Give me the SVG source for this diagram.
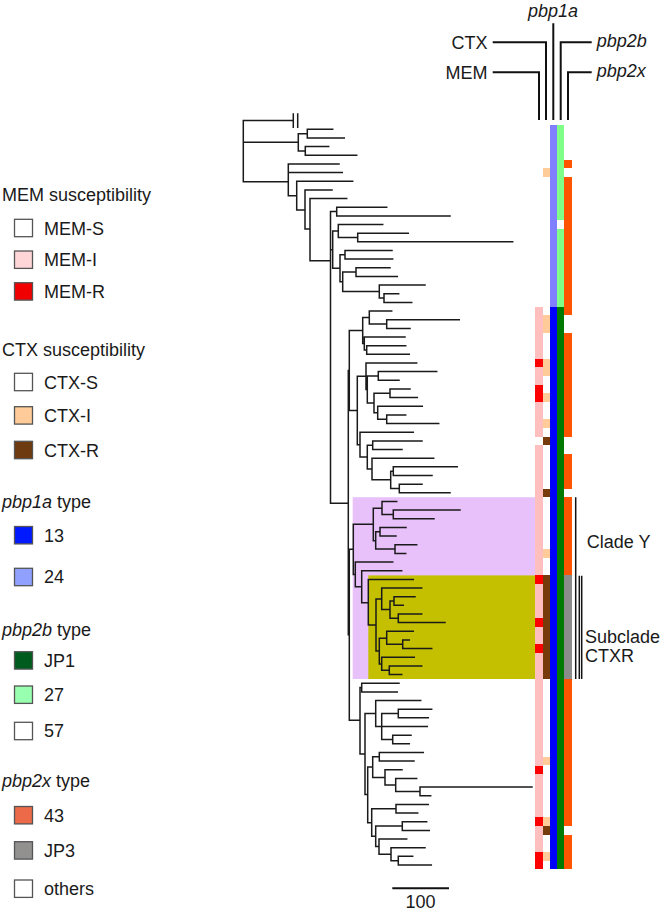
<svg xmlns="http://www.w3.org/2000/svg" width="666" height="910" viewBox="0 0 666 910">
<style>
text{font-family:"Liberation Sans",Arial,sans-serif;font-size:18px;fill:#1a1a1a}
.it{font-style:italic}
.tree{fill:none;stroke:#1a1a1a;stroke-width:1.5;stroke-linecap:square}
.hdr{fill:none;stroke:#111;stroke-width:2}
.br{fill:none;stroke:#111;stroke-width:1.5}
.lb{stroke:#555;stroke-width:1.3}
</style>
<rect width="666" height="910" fill="#fff"/>
<g id="clade-boxes">
<rect id="cladeY-box" x="352.7" y="497.2" width="182.3" height="181.8" fill="#E8C1FA"/>
<rect id="ctxr-box" x="368.3" y="575.4" width="166.7" height="103.6" fill="#C4C000"/>
</g>
<g id="connectors" class="tree">
<path d="M243.3 120.6V181.7M243.3 120.6H293.3M293.3 114V127.3M297.7 114V127.3
M243.3 142.3H298.3M298.3 133.7V151M298.3 133.7H307.3M307.3 129.3V138M307.3 129.3H332.7M307.3 138H344.3
M298.3 151H305.3M305.3 146.6V155.3M305.3 146.6H328.7M305.3 155.3H356.7
M243.3 181.7H288.3M288.3 163.9V195.7M288.3 163.9H339M288.3 172.6H342.3M288.3 195.7H296.7
M296.7 181.2V210M296.7 181.2H352.7M296.7 210H305M305 189.9V229M305 189.9H332
M305 229H310M310 198.5V260.7M310 198.5H346.7M310 260.7H330.5
M330.5 211.5V503.3M330.5 211.5H336.7M336.7 207.2V215.9M336.7 207.2H386.7M336.7 215.9H450
M330.5 249.7H332.7M332.7 231V268.3M332.7 231H338.3M338.3 224.5V237.5M338.3 224.5H382.7M338.3 237.5H357.7M357.7 233.2V241.8M357.7 233.2H408.3M357.7 241.8H512.7
M332.7 268.3H340M340 254.8V281.8M340 254.8H345M345 250.5V259.1M345 250.5H392M345 259.1H392.7
M340 281.8H342.7M342.7 272.1V291.6M342.7 272.1H356M356 267.8V276.4M356 267.8H390M356 276.4H397.3
M342.7 291.6H379.3M379.3 285.1V298M379.3 285.1H425M379.3 298H384M384 293.7V302.4M384 293.7H398.7M384 302.4H411.7
M330.5 503.3H348.3M348.3 370.5V634.8M348.3 370.5H349.3M349.3 330.6V410.4
M349.3 330.6H362.7M362.7 317.6V343.5M362.7 317.6H369.3M369.3 311.1V324M369.3 311.1H391.7M369.3 324H386.7M386.7 319.7V328.4M386.7 319.7H459.3M386.7 328.4H410
M362.7 343.5H364.3M364.3 337V350M364.3 337H405M364.3 350H366.7M366.7 345.7V354.3M366.7 345.7H405.7M366.7 354.3H409.3
M349.3 410.4H357.3M357.3 376.2V444.7M357.3 376.2H366M366 363V389.5M366 363H416.7M366 389.5H367.3M367.3 376V403
M367.3 376H378.3M378.3 371.6V380.3M378.3 371.6H436.7M378.3 380.3H399
M367.3 403H374M374 393.3V412.8M374 393.3H390M390 388.9V397.6M390 388.9H410M390 397.6H417.3
M374 412.8H377.7M377.7 406.3V419.3M377.7 406.3H422.3M377.7 419.3H386.7M386.7 414.9V423.6M386.7 414.9H405.7M386.7 423.6H438.7
M357.3 444.7H360M360 432.2V457.1M360 432.2H413.3M360 457.1H367.3M367.3 445.2V469
M367.3 445.2H372.7M372.7 440.9V449.5M372.7 440.9H422M372.7 449.5H402
M367.3 469H372M372 458.2V479.8M372 458.2H433.7M372 479.8H390.7M390.7 471.2V488.5
M390.7 471.2H393.3M393.3 466.8V475.5M393.3 466.8H457.3M393.3 475.5H432
M390.7 488.5H399.3M399.3 484.2V492.8M399.3 484.2H422M399.3 492.8H450
M348.3 634.8H349.3M349.3 549.2V720.3M349.3 549.2H353.3M353.3 524.3V574.4
M353.3 524.3H373.3M373.3 508.3V540.7M373.3 508.3H382M382 501.5V514.5M382 501.5H396.7M382 514.5H393.3M393.3 510.1V518.8M393.3 510.1H460M393.3 518.8H434
M373.3 540.7H375.7M375.7 531.8V549M375.7 531.8H380M380 527.4V536.1M380 527.4H406M380 536.1H396
M375.7 549H395M395 544.7V553.4M395 544.7H416.7M395 553.4H405.7
M353.3 574.4H355.3M355.3 562.1V586.7M355.3 562.1H392.7M355.3 586.7H361.7M361.7 570.7V602.7M361.7 570.7H401.7
M361.7 602.7H368.3M368.3 579.4V625M368.3 579.4H413.3M368.3 625H376M376 599V651
M376 599H381.7M381.7 588V609.5M381.7 588H421.7M381.7 609.5H390M390 601V618.3
M390 601H394M394 596.7V605.3M394 596.7H415M394 605.3H403.3
M390 618.3H398.3M398.3 614V622.6M398.3 614H421.7M398.3 622.6H445
M376 651H379.3M379.3 638.3V664M379.3 638.3H386.7M386.7 631.3V644.3M386.7 631.3H413.3M386.7 644.3H402.7M402.7 640V648.6M402.7 640H409.3M402.7 648.6H431.7
M379.3 664H381.7M381.7 657.3V670.3M381.7 657.3H414.3M381.7 670.3H389.3M389.3 665.9V674.6M389.3 665.9H421.7M389.3 674.6H401.7
M349.3 720.3H360M360 687.6V754M360 687.6H361.7M361.7 683.2V691.9M361.7 683.2H399M361.7 691.9H397.3
M360 754H365M365 713.5V794.6M365 713.5H375.7M375.7 700.5V726.5M375.7 700.5H420.7M375.7 726.5H427.3
M381.7 713.5V739.5M381.7 713.5H398.3M398.3 709.2V717.8M398.3 709.2H431.7M398.3 717.8H428.3
M381.7 739.5H392.7M392.7 735.2V743.8M392.7 735.2H411M392.7 743.8H409.3
M365 794.6H367.7M367.7 767V822.8M367.7 767H372.7M372.7 756.8V777.4
M372.7 756.8H379.3M379.3 752.5V761.1M379.3 752.5H423.3M379.3 761.1H414
M372.7 777.4H385M385 769.8V784.9M385 769.8H402M385 784.9H395.7M395.7 778.4V791.4M395.7 778.4H416.7
M395.7 791.4H420M420 787.1V795.7M420 787.1H532M420 795.7H430.7
M367.7 822.8H371.7M371.7 808.7V836.3M371.7 808.7H396M396 804.4V813M396 804.4H428.3M396 813H417.7
M371.7 836.3H375.7M375.7 826V846.6M375.7 826H402.3M402.3 821.7V830.4M402.3 821.7H426.7M402.3 830.4H429.3
M375.7 846.6H379M379 839V854.2M379 839H406.7M379 854.2H391M391 847.7V860.7M391 847.7H425
M391 860.7H398.3M398.3 856.3V865M398.3 856.3H412.7M398.3 865H431.3"/>
</g>
<g id="strips" shape-rendering="crispEdges">
<g id="strip-MEM">
<rect x="535" y="306.8" width="7.5" height="562.5" fill="#FFBFBF"/>
<rect x="535" y="436.6" width="7.5" height="8.6" fill="#fff"/>
<g fill="#FF0000">
<rect x="535" y="358.7" width="7.5" height="8.66"/>
<rect x="535" y="384.7" width="7.5" height="17.3"/>
<rect x="535" y="575.1" width="7.5" height="8.66"/>
<rect x="535" y="618.3" width="7.5" height="8.66"/>
<rect x="535" y="644.3" width="7.5" height="8.66"/>
<rect x="535" y="765.5" width="7.5" height="8.66"/>
<rect x="535" y="817.4" width="7.5" height="8.66"/>
<rect x="535" y="852" width="7.5" height="17.3"/>
</g>
</g>
<g id="strip-CTX">
<g fill="#FFCC99">
<rect x="542.5" y="168.3" width="7.5" height="8.66"/>
<rect x="542.5" y="315.4" width="7.5" height="17.3"/>
<rect x="542.5" y="358.7" width="7.5" height="17.3"/>
<rect x="542.5" y="393.3" width="7.5" height="8.66"/>
<rect x="542.5" y="419.3" width="7.5" height="8.66"/>
<rect x="542.5" y="549.1" width="7.5" height="8.66"/>
<rect x="542.5" y="756.8" width="7.5" height="8.66"/>
<rect x="542.5" y="817.4" width="7.5" height="8.66"/>
<rect x="542.5" y="852" width="7.5" height="8.66"/>
</g>
<g fill="#773A0A">
<rect x="542.5" y="436.6" width="7.5" height="8.66"/>
<rect x="542.5" y="488.5" width="7.5" height="8.66"/>
<rect x="542.5" y="575.1" width="7.5" height="103.8"/>
<rect x="542.5" y="826.1" width="7.5" height="8.66"/>
</g>
</g>
<g id="strip-pbp1a">
<rect x="550" y="125" width="7" height="181.8" fill="#7F7FFF"/>
<rect x="550" y="306.8" width="7" height="562.5" fill="#0000FF"/>
</g>
<g id="strip-pbp2b">
<rect x="557" y="125" width="7" height="95.2" fill="#80FF88"/>
<rect x="557" y="228.9" width="7" height="77.9" fill="#80FF88"/>
<rect x="557" y="306.8" width="7" height="562.5" fill="#007A00"/>
</g>
<g id="strip-pbp2x">
<g fill="#FF5500">
<rect x="564" y="159.6" width="7.5" height="8.66"/>
<rect x="564" y="176.9" width="7.5" height="138.5"/>
<rect x="564" y="332.7" width="7.5" height="103.9"/>
<rect x="564" y="453.9" width="7.5" height="34.6"/>
<rect x="564" y="497.2" width="7.5" height="77.9"/>
<rect x="564" y="678.9" width="7.5" height="147.2"/>
<rect x="564" y="834.7" width="7.5" height="34.6"/>
</g>
<rect x="564" y="575.1" width="7.5" height="103.8" fill="#8C8C8C"/>
</g>
</g>
<g id="header">
<path class="hdr" d="M492.7 72.3H539V120M492.7 42.3H546V120M553.3 23.3V120M591.7 42.3H560.7V120M591.7 72.3H568V120"/>
<text x="553" y="16.5" text-anchor="middle" class="it">pbp1a</text>
<text x="487.5" y="48.8" text-anchor="end">CTX</text>
<text x="487.5" y="78.8" text-anchor="end">MEM</text>
<text x="596.7" y="46.5" class="it">pbp2b</text>
<text x="596.7" y="76.5" class="it">pbp2x</text>
</g>
<g id="brackets">
<path class="br" d="M575.7 497.3V679M579.3 575.7V679M581.7 575.7V679"/>
<text x="586.7" y="548">Clade Y</text>
<text x="585" y="642.5">Subclade</text>
<text x="585" y="662">CTXR</text>
</g>
<g id="scale-bar">
<path d="M392.3 888.3H449" stroke="#111" stroke-width="2"/>
<text x="420.5" y="907.5" text-anchor="middle">100</text>
</g>
<g id="legend">
<g id="legend-MEM">
<text x="2" y="200.5">MEM susceptibility</text>
<rect class="lb" x="14.5" y="219.3" width="18" height="17.4" fill="#fff"/><text x="44" y="234.5">MEM-S</text>
<rect class="lb" x="14.5" y="251" width="18" height="17.4" fill="#FFD6D8"/><text x="44" y="266.3">MEM-I</text>
<rect class="lb" x="14.5" y="282.7" width="18" height="17.4" fill="#F00000"/><text x="44" y="297.8">MEM-R</text>
</g>
<g id="legend-CTX">
<text x="2" y="355.7">CTX susceptibility</text>
<rect class="lb" x="14.5" y="373.3" width="18" height="17.4" fill="#fff"/><text x="44" y="388.5">CTX-S</text>
<rect class="lb" x="14.5" y="406.7" width="18" height="17.4" fill="#FFCC99"/><text x="44" y="421.8">CTX-I</text>
<rect class="lb" x="14.5" y="441.3" width="18" height="17.4" fill="#6E3A0F"/><text x="44" y="456.5">CTX-R</text>
</g>
<g id="legend-pbp1a">
<text x="2" y="508"><tspan class="it">pbp1a</tspan> type</text>
<rect class="lb" x="14.5" y="526.5" width="18" height="17.4" fill="#0019FF"/><text x="44" y="541.5">13</text>
<rect class="lb" x="14.5" y="568.3" width="18" height="17.4" fill="#8FA0FF"/><text x="44" y="583.2">24</text>
</g>
<g id="legend-pbp2b">
<text x="2" y="635.5"><tspan class="it">pbp2b</tspan> type</text>
<rect class="lb" x="14.5" y="651.7" width="18" height="17.4" fill="#005C1E"/><text x="44" y="666.5">JP1</text>
<rect class="lb" x="14.5" y="686" width="18" height="17.4" fill="#99FFB0"/><text x="44" y="701.2">27</text>
<rect class="lb" x="14.5" y="722.3" width="18" height="17.4" fill="#fff"/><text x="44" y="737.3">57</text>
</g>
<g id="legend-pbp2x">
<text x="2" y="786.5"><tspan class="it">pbp2x</tspan> type</text>
<rect class="lb" x="14.5" y="806.5" width="18" height="17.4" fill="#EC6A48"/><text x="44" y="821.5">43</text>
<rect class="lb" x="14.5" y="841.7" width="18" height="17.4" fill="#939090"/><text x="44" y="856.8">JP3</text>
<rect class="lb" x="14.5" y="880" width="18" height="17.4" fill="#fff"/><text x="44" y="895.2">others</text>
</g>
</g>
</svg>
